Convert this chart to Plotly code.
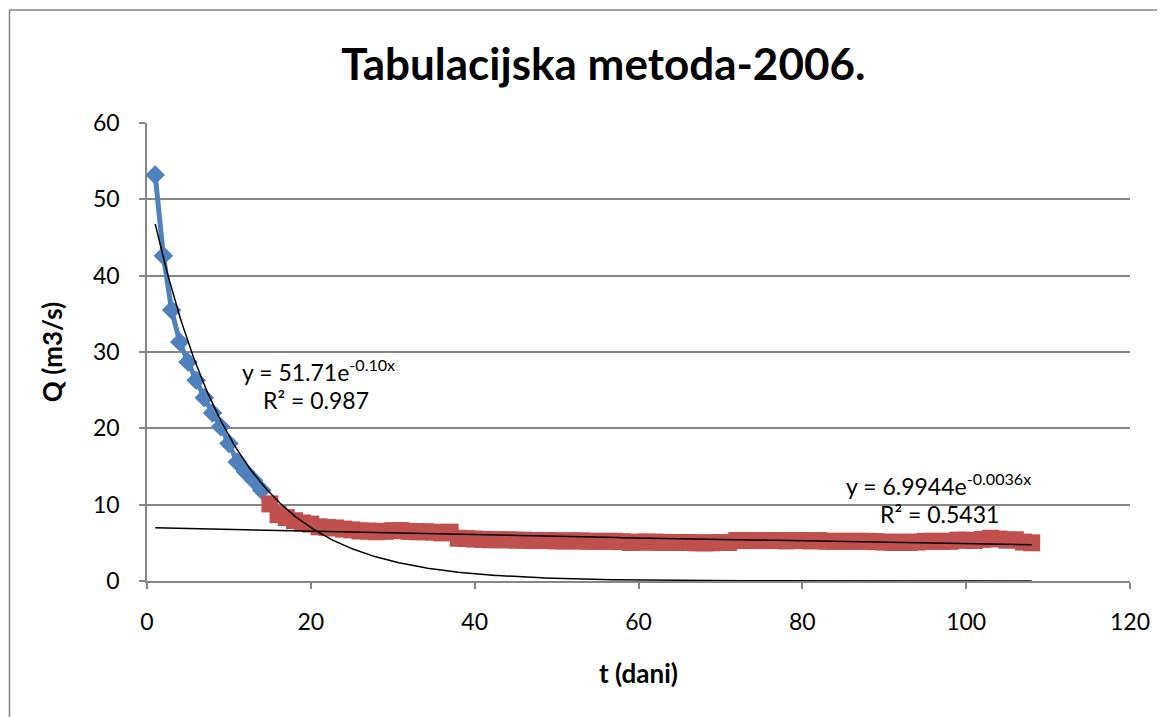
import numpy as np
import plotly.graph_objects as go

# ---- data ----
blue_days = [1, 2, 3, 4, 5, 6, 7, 8, 9, 10, 11, 12, 13, 14]
blue_q = [53.2, 42.6, 35.5, 31.3, 28.7, 26.3, 24.0, 22.0, 20.2, 18.0, 15.6, 14.3, 13.2, 11.9]

red_days = list(range(15, 109))
red_q = [10.1, 8.7, 8.3, 7.9, 7.6, 7.45, 7.1, 7.0, 6.95, 6.8,
         6.7, 6.55, 6.55, 6.45, 6.5, 6.6, 6.6, 6.5, 6.45, 6.45,
         6.4, 6.3, 6.4, 5.6, 5.55, 5.5, 5.45, 5.4, 5.4, 5.4,
         5.35, 5.35, 5.3, 5.3, 5.3, 5.25, 5.25, 5.25, 5.25, 5.2,
         5.2, 5.2, 5.2, 5.15, 5.05, 5.1, 5.1, 5.1, 5.05, 5.05,
         5.05, 5.05, 5.0, 5.0, 5.0, 5.05, 5.05, 5.3, 5.3, 5.3,
         5.3, 5.3, 5.3, 5.25, 5.3, 5.3, 5.25, 5.3, 5.2, 5.2,
         5.2, 5.2, 5.2, 5.2, 5.15, 5.1, 5.05, 5.1, 5.05, 5.1,
         5.2, 5.2, 5.2, 5.2, 5.35, 5.35, 5.3, 5.45, 5.6, 5.5,
         5.35, 5.4, 5.1, 5.0]

# trendline parameters (from the chart's equations)
fit1_a, fit1_b = 51.71, -0.10
fit2_a, fit2_b = 6.9944, -0.0036
trend_x_range = (1, 108)

x_ticks = [0, 20, 40, 60, 80, 100, 120]
y_ticks = [0, 10, 20, 30, 40, 50, 60]

title_text = "Tabulacijska metoda-2006."
x_title = "t (dani)"
y_title = "Q (m3/s)"

# ---- figure ----
FONT = "Lato"
BLUE = "#4F81BD"
RED = "#C0504D"
GRID = "#868686"

tx = np.linspace(trend_x_range[0], trend_x_range[1], 400)

fig = go.Figure()
fig.add_trace(go.Scatter(
    x=blue_days, y=blue_q, mode="lines+markers",
    line=dict(color=BLUE, width=5),
    marker=dict(symbol="diamond", size=15, color=BLUE),
    showlegend=False, hoverinfo="x+y"))
fig.add_trace(go.Scatter(
    x=red_days, y=red_q, mode="lines+markers",
    line=dict(color=RED, width=5),
    marker=dict(symbol="square", size=17, color=RED),
    showlegend=False, hoverinfo="x+y"))
fig.add_trace(go.Scatter(
    x=tx, y=fit1_a * np.exp(fit1_b * tx), mode="lines",
    line=dict(color="black", width=1.5), showlegend=False, hoverinfo="skip"))
fig.add_trace(go.Scatter(
    x=tx, y=fit2_a * np.exp(fit2_b * tx), mode="lines",
    line=dict(color="black", width=1.5), showlegend=False, hoverinfo="skip"))

ann_font = dict(family=FONT, size=23, color="black")
fig.add_annotation(x=20.9, y=27.6, xref="x", yref="y", showarrow=False,
                   text="y = 51.71e<sup>-0.10x</sup>", font=ann_font)
fig.add_annotation(x=20.6, y=23.7, xref="x", yref="y", showarrow=False,
                   text="R² = 0.987", font=ann_font)
fig.add_annotation(x=96.6, y=12.6, xref="x", yref="y", showarrow=False,
                   text="y = 6.9944e<sup>-0.0036x</sup>", font=ann_font)
fig.add_annotation(x=96.7, y=8.8, xref="x", yref="y", showarrow=False,
                   text="R² = 0.5431", font=ann_font)

# chart-area border (left/top visible)
fig.add_shape(type="rect", xref="paper", yref="paper",
              x0=-0.1399, y0=-0.45, x1=1.1, y1=1.2467,
              line=dict(color=GRID, width=1.5), layer="below")

fig.update_layout(
    width=1165, height=717,
    margin=dict(l=139, r=43, t=115, b=144, autoexpand=False),
    paper_bgcolor="white", plot_bgcolor="white",
    font=dict(family=FONT, size=23, color="black"),
    title=dict(text="<b>" + title_text + "</b>", x=0.511, xanchor="center",
               y=1 - 57 / 717, yanchor="middle",
               font=dict(family=FONT, size=44, color="black")),
    xaxis=dict(range=[0, 120], tickvals=x_ticks, showgrid=False,
               showline=True, linecolor=GRID, linewidth=1.5,
               ticks="outside", ticklen=6, tickcolor=GRID, tickwidth=1.5,
               zeroline=False, ticklabelstandoff=14,
               tickfont=dict(family=FONT, size=23),
               title=dict(text="<b>" + x_title + "</b>", standoff=30,
                          font=dict(family=FONT, size=26))),
    yaxis=dict(range=[0, 60], tickvals=y_ticks, showgrid=True,
               gridcolor=GRID, gridwidth=1.5,
               showline=True, linecolor=GRID, linewidth=1.5,
               ticks="outside", ticklen=6, tickcolor=GRID, tickwidth=1.5,
               zeroline=False, ticklabelstandoff=15,
               tickfont=dict(family=FONT, size=23),
               title=dict(text="<b>" + y_title + "</b>", standoff=23,
                          font=dict(family=FONT, size=26))),
)

fig.write_html("out.html")
